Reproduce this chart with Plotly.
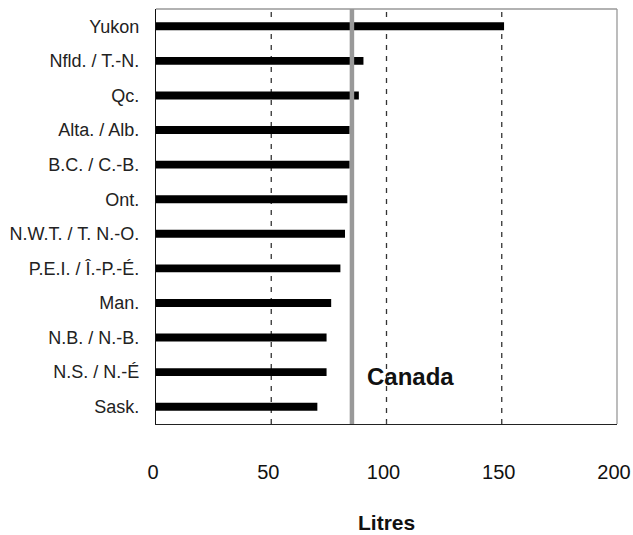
import plotly.graph_objects as go

provinces = ["Yukon", "Nfld. / T.-N.", "Qc.", "Alta. / Alb.", "B.C. / C.-B.", "Ont.",
             "N.W.T. / T. N.-O.", "P.E.I. / Î.-P.-É.", "Man.", "N.B. / N.-B.", "N.S. / N.-É", "Sask."]
litres = [151, 90, 88, 84, 84, 83, 82, 80, 76, 74, 74, 70]
canada_avg = 85
x_ticks = [0, 50, 100, 150, 200]
grid_vals = [50, 100, 150]

FONT = "Liberation Sans, Arial, sans-serif"

fig = go.Figure()
fig.add_trace(go.Bar(
    y=provinces, x=litres, orientation="h",
    marker=dict(color="black", line=dict(width=0)),
    width=0.23, hoverinfo="x+y", showlegend=False,
))

# dashed gridlines (below bars)
for g in grid_vals:
    fig.add_shape(type="line", xref="x", yref="paper", x0=g, x1=g, y0=0, y1=1,
                  line=dict(color="#333333", width=1.3, dash="5px,6px"), layer="below")

# Canada average line (above bars)
fig.add_shape(type="line", xref="x", yref="paper", x0=canada_avg, x1=canada_avg, y0=0, y1=1,
              line=dict(color="#999999", width=4.5), layer="above")

# top and right gray border
fig.add_shape(type="line", xref="paper", yref="paper", x0=0, x1=1, y0=1, y1=1,
              line=dict(color="#999999", width=1.3), layer="above")
fig.add_shape(type="line", xref="paper", yref="paper", x0=1, x1=1, y0=0, y1=1,
              line=dict(color="#999999", width=1.3), layer="above")

fig.add_annotation(text="<b>Canada</b>", xref="x", yref="paper", x=110.5, y=0.114,
                   showarrow=False, font=dict(family=FONT, size=24, color="#111111"),
                   xanchor="center", yanchor="middle")
fig.add_annotation(text="<b>Litres</b>", xref="paper", yref="paper", x=0.499, y=-0.238,
                   showarrow=False, font=dict(family=FONT, size=21, color="#111111"),
                   xanchor="center", yanchor="middle")

fig.update_layout(
    width=633, height=535,
    margin=dict(l=156, r=16, t=9, b=111, autoexpand=False),
    paper_bgcolor="white", plot_bgcolor="white",
    font=dict(family=FONT, color="#222222"),
    bargap=0.77,
    xaxis=dict(range=[0, 200], tickvals=x_ticks, showgrid=False, zeroline=False,
               showline=True, linecolor="#222222", linewidth=1.3,
               ticks="inside", ticklen=3, tickcolor="#444444",
               tickfont=dict(family=FONT, size=20, color="#111111"),
               ticklabelstandoff=30, ticklabelshift=-3, ticklabeloverflow="allow",
               automargin=False, fixedrange=True),
    yaxis=dict(categoryorder="array", categoryarray=provinces, autorange="reversed",
               showgrid=False, zeroline=False, showline=True, linecolor="#111111", linewidth=1.3,
               ticks="", tickfont=dict(family=FONT, size=18, color="#222222"),
               ticklabelstandoff=12, automargin=False, fixedrange=True),
)

fig.write_html("out.html", config={"displayModeBar": False},
               post_script="document.body.style.margin='0';document.body.style.overflow='hidden';")
